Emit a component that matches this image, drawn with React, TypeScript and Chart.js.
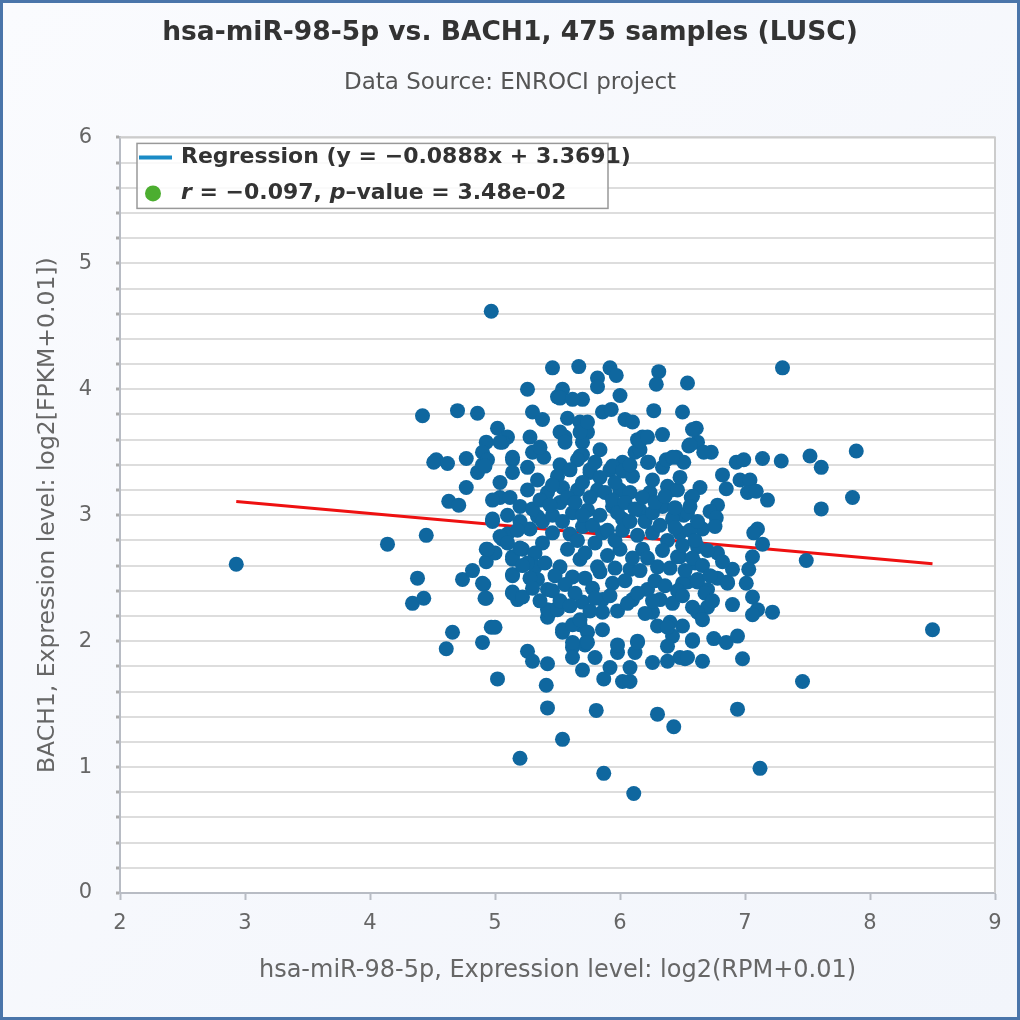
import Chart from "chart.js/auto";
import { useEffect, useRef } from "react";

const chartTitle = "hsa-miR-98-5p vs. BACH1, 475 samples (LUSC)";
const chartSubtitle = "Data Source: ENROCI project";
const xAxisTitle = "hsa-miR-98-5p, Expression level: log2(RPM+0.01)";
const yAxisTitle = "BACH1, Expression level: log2[FPKM+0.01])";

const slope = -0.0888;
const intercept = 3.3691;
const regressionLabel = "Regression (y = \u22120.0888x + 3.3691)";
const statsParts: [string, boolean][] = [
  ["r", true],
  [" = \u22120.097, ", false],
  ["p", true],
  ["\u2013value = 3.48e-02", false],
];

// [miRNA expression, BACH1 expression]
const samplePoints: [number, number][] = [
  [2.93, 2.61], [4.14, 2.77], [4.38, 2.5], [4.34, 2.3], [4.43, 2.34], [4.45, 2.84],
  [4.42, 3.79], [4.53, 3.44], [4.51, 3.42], [4.62, 3.41], [4.63, 3.11], [4.71, 3.08],
  [4.7, 3.83], [4.86, 3.81], [4.97, 4.62], [5.26, 4.0], [5.46, 4.17], [5.67, 4.18],
  [5.92, 4.17], [5.97, 4.11], [5.82, 4.09], [5.82, 4.02], [5.54, 4.0], [5.5, 3.94],
  [5.7, 3.92], [6.0, 3.95], [5.3, 3.82], [5.38, 3.76], [5.58, 3.77], [5.86, 3.82],
  [5.93, 3.84], [6.04, 3.76], [6.1, 3.74], [5.02, 3.69], [5.1, 3.62], [5.06, 3.58],
  [5.28, 3.62], [5.3, 3.5], [5.39, 3.46], [4.93, 3.58], [4.9, 3.5], [4.9, 3.4],
  [4.86, 3.34], [4.77, 3.45], [4.77, 3.22], [5.14, 3.44], [5.14, 3.34], [5.04, 3.26],
  [5.04, 3.14], [5.56, 3.62], [5.68, 3.74], [5.74, 3.66], [5.7, 3.58], [5.68, 3.47],
  [5.76, 3.34], [5.84, 3.52], [6.02, 3.42], [5.92, 3.36], [6.14, 3.6], [6.12, 3.5],
  [6.31, 4.14], [6.29, 4.04], [6.54, 4.05], [7.3, 4.17], [6.27, 3.83], [6.5, 3.82],
  [6.18, 3.62], [6.34, 3.64], [6.16, 3.52], [6.61, 3.69], [6.55, 3.55], [6.62, 3.58],
  [6.73, 3.5], [6.67, 3.5], [6.23, 3.42], [6.34, 3.38], [6.37, 3.44], [6.45, 3.46],
  [6.51, 3.42], [6.93, 3.42], [6.99, 3.44], [7.14, 3.45], [7.29, 3.43], [7.52, 3.47],
  [7.61, 3.38], [7.89, 3.51], [6.82, 3.32], [6.85, 3.21], [6.96, 3.28], [7.04, 3.28],
  [7.02, 3.18], [7.09, 3.19], [7.18, 3.12], [7.86, 3.14], [7.61, 3.05], [6.64, 3.22],
  [6.57, 3.14], [6.41, 3.2], [6.78, 3.08], [6.72, 3.03], [6.77, 2.98], [6.43, 2.99],
  [6.51, 3.0], [6.66, 2.89], [7.1, 2.89], [7.07, 2.86], [6.76, 2.91], [7.14, 2.77],
  [7.49, 2.64], [7.06, 2.67], [7.03, 2.57], [7.01, 2.46], [7.06, 2.35], [7.1, 2.25],
  [7.06, 2.21], [7.22, 2.23], [8.5, 2.09], [7.46, 1.68], [6.94, 1.46], [6.3, 1.42],
  [6.9, 2.57], [6.86, 2.47], [6.9, 2.29], [6.7, 2.27], [6.62, 2.23], [6.66, 2.17],
  [6.5, 2.12], [6.4, 2.15], [6.3, 2.12], [6.42, 2.04], [6.38, 1.96], [6.58, 2.0],
  [6.75, 2.02], [6.85, 1.99], [6.94, 2.04], [6.98, 1.86], [6.66, 1.84], [6.52, 1.86],
  [6.48, 1.87], [6.38, 1.84], [6.26, 1.83], [6.14, 2.0], [6.12, 1.91], [6.08, 1.79],
  [6.02, 1.68], [6.08, 1.68], [6.48, 2.67], [6.6, 2.62], [6.78, 2.7], [6.82, 2.63],
  [6.54, 2.47], [6.62, 2.47], [6.7, 2.41], [6.78, 2.5], [6.86, 2.46],
  [4.61, 1.94], [4.9, 1.99], [5.02, 1.7], [5.26, 1.92], [5.3, 1.84], [5.42, 1.82],
  [5.41, 1.65], [5.42, 1.47], [5.54, 1.22], [5.2, 1.07], [5.62, 1.95], [5.62, 1.87],
  [5.7, 1.77], [5.72, 1.97], [5.8, 1.87], [5.81, 1.45], [5.87, 0.95], [5.92, 1.79],
  [5.87, 1.7], [5.98, 1.91], [5.98, 1.97], [6.11, 0.79], [6.43, 1.32], [6.54, 1.87],
  [7.12, 0.99],
  [4.66, 2.07], [4.74, 2.49], [4.82, 2.56], [4.91, 2.45], [4.93, 2.34], [4.97, 2.11],
  [4.98, 2.95], [4.93, 2.73], [4.93, 2.63], [5.0, 2.7], [5.06, 2.81], [5.1, 2.85],
  [5.14, 2.52], [5.14, 2.39], [5.18, 2.33], [5.14, 2.67], [5.22, 2.73], [5.42, 2.19],
  [5.48, 2.25], [5.54, 2.07], [5.68, 2.13], [5.74, 2.07], [5.73, 1.99], [5.86, 2.09],
  [5.52, 3.93], [5.62, 3.92], [5.04, 3.58], [5.36, 3.54], [5.52, 3.66], [5.56, 3.58],
  [5.68, 3.66], [5.74, 3.74], [5.7, 3.48], [5.66, 3.44], [6.16, 3.59], [6.22, 3.62],
  [6.22, 3.42], [6.42, 3.46], [6.58, 3.68], [6.56, 3.56], [5.14, 3.46], [4.94, 3.44],
  [4.92, 3.39], [5.26, 3.38], [5.52, 3.4], [5.5, 3.31], [5.76, 3.36], [5.84, 3.3],
  [5.94, 3.39], [6.02, 3.35], [6.1, 3.31], [4.98, 3.12], [5.12, 3.14], [5.26, 3.2],
  [5.34, 3.28], [5.42, 3.18], [5.54, 3.22], [5.66, 3.2], [5.7, 3.26], [5.82, 3.2],
  [6.0, 3.2], [6.08, 3.18], [6.24, 3.18], [6.38, 3.23], [6.46, 3.2], [6.58, 3.15],
  [5.2, 3.07], [5.52, 3.1], [5.74, 3.04], [5.94, 3.07], [6.16, 3.04], [6.34, 3.07],
  [6.54, 3.02],
  [4.98, 2.97], [4.94, 2.73], [5.04, 2.83], [5.14, 2.65], [5.2, 2.74], [5.28, 2.89],
  [5.34, 2.99], [5.14, 2.53], [5.14, 2.38], [5.22, 2.35], [4.9, 2.46], [4.92, 2.34],
  [5.0, 2.11], [5.32, 2.59], [5.34, 2.49], [5.42, 2.41], [5.38, 2.78], [5.46, 2.86],
  [5.52, 2.59], [5.58, 2.73], [5.62, 2.51], [5.68, 2.65], [5.7, 2.91], [5.62, 3.02],
  [5.42, 2.25], [5.5, 2.25], [5.54, 2.09], [5.62, 2.13], [5.68, 2.17], [5.7, 2.31],
  [5.62, 1.99], [5.74, 1.99], [5.82, 2.59], [5.8, 2.78], [5.86, 2.86], [5.86, 2.33],
  [5.86, 2.23], [5.94, 2.46], [6.0, 2.73], [6.02, 2.97], [6.08, 2.57], [6.1, 2.33],
  [6.14, 1.99], [6.18, 2.73], [6.22, 2.41], [6.26, 2.86], [6.26, 2.23], [6.3, 2.59],
  [6.32, 2.33], [6.38, 2.11], [6.42, 2.97], [6.46, 2.67], [6.48, 2.86], [6.5, 2.46],
  [6.58, 2.27], [6.58, 2.01], [6.56, 3.07], [6.62, 2.49], [6.62, 2.75],
  [5.3, 3.05], [5.38, 2.95], [5.46, 3.0], [5.54, 2.95], [5.6, 2.85], [5.66, 2.8],
  [5.72, 2.7], [5.78, 2.92], [5.84, 3.0], [5.9, 2.88], [5.96, 2.8], [6.02, 2.88],
  [6.08, 2.95], [6.14, 2.84], [6.2, 2.95], [6.26, 3.02], [6.32, 2.92], [6.38, 2.8],
  [6.44, 2.9], [6.5, 2.76], [6.56, 2.88], [6.62, 2.95], [5.32, 2.7], [5.4, 2.62],
  [5.48, 2.52], [5.56, 2.45], [5.64, 2.38], [5.72, 2.5], [5.78, 2.42], [5.84, 2.55],
  [5.9, 2.68], [5.96, 2.58], [6.04, 2.48], [6.1, 2.66], [6.16, 2.56], [6.22, 2.66],
  [6.28, 2.48], [6.34, 2.72], [6.4, 2.58], [6.46, 2.4], [6.52, 2.56], [6.58, 2.66],
  [5.36, 3.12], [5.44, 3.08], [5.58, 3.14], [5.64, 3.1], [5.7, 3.0], [5.76, 3.14],
  [5.88, 3.18], [5.94, 3.12], [5.98, 3.02], [6.04, 3.1], [6.12, 3.05], [6.18, 3.14],
  [6.28, 3.1], [6.36, 3.15], [6.44, 3.06], [5.28, 2.5], [5.26, 2.62], [5.36, 2.32],
  [5.46, 2.4], [5.52, 2.32], [5.6, 2.28], [5.76, 2.24], [5.8, 2.34], [5.92, 2.36],
  [5.98, 2.24], [6.06, 2.3], [6.14, 2.38], [6.2, 2.22], [6.26, 2.32], [6.36, 2.44],
  [6.42, 2.3], [6.5, 2.36], [5.46, 3.24], [5.6, 3.36], [5.8, 3.42], [5.96, 3.26],
  [6.08, 3.4], [6.26, 3.28], [6.48, 3.3], [5.2, 2.95], [5.1, 3.0], [5.18, 2.88],
  [5.1, 2.78], [5.22, 2.6], [5.3, 2.42], [6.6, 2.8], [6.7, 2.72], [6.66, 2.6],
  [6.72, 2.52], [6.68, 2.38], [6.74, 2.32],
];

const pointColor = "#0f679f";
const lineColor = "#ee1111";
const legendLineColor = "#1b8bc6";
const legendDotColor = "#4cae30";
const fontFamily = "'DejaVu Sans', sans-serif";

const frame = {
  id: "frame",
  beforeDraw(chart: any) {
    const { ctx, chartArea: a } = chart;
    ctx.save();
    ctx.fillStyle = "#ffffff";
    ctx.fillRect(a.left, a.top, a.right - a.left, a.bottom - a.top);
    ctx.restore();
  },
  afterDraw(chart: any) {
    const { ctx, chartArea: a } = chart;
    ctx.save();
    ctx.strokeStyle = "#cccccc";
    ctx.lineWidth = 2;
    ctx.beginPath();
    ctx.moveTo(a.left, a.top);
    ctx.lineTo(a.right, a.top);
    ctx.lineTo(a.right, a.bottom);
    ctx.stroke();

    // legend box
    const bx = a.left + 17;
    const by = a.top + 6;
    ctx.fillStyle = "rgba(255,255,255,0.85)";
    ctx.fillRect(bx, by, 471, 65);
    ctx.strokeStyle = "#999999";
    ctx.lineWidth = 1.5;
    ctx.strokeRect(bx, by, 471, 65);

    ctx.strokeStyle = legendLineColor;
    ctx.lineWidth = 4;
    ctx.beginPath();
    ctx.moveTo(bx + 2, by + 14);
    ctx.lineTo(bx + 35, by + 14);
    ctx.stroke();

    ctx.fillStyle = legendDotColor;
    ctx.beginPath();
    ctx.arc(bx + 16, by + 50, 8, 0, Math.PI * 2);
    ctx.fill();

    ctx.fillStyle = "#333333";
    ctx.textBaseline = "middle";
    ctx.font = `bold 22px ${fontFamily}`;
    ctx.fillText(regressionLabel, bx + 44, by + 14);
    let tx = bx + 44;
    for (const [part, italic] of statsParts) {
      ctx.font = `${italic ? "italic " : ""}bold 22px ${fontFamily}`;
      ctx.fillText(part, tx, by + 50);
      tx += ctx.measureText(part).width;
    }
    ctx.restore();
  },
};

export default function App() {
  const ref = useRef<HTMLCanvasElement>(null);

  useEffect(() => {
    if (!ref.current) return;
    const xs = samplePoints.map((p) => p[0]);
    const xMin = Math.min(...xs);
    const xMax = Math.max(...xs);
    const chart = new Chart(ref.current, {
      type: "scatter",
      plugins: [frame],
      data: {
        datasets: [
          {
            label: "samples",
            data: samplePoints.map(([x, y]) => ({ x, y })),
            backgroundColor: pointColor,
            borderWidth: 0,
            pointRadius: 7.5,
            order: 1,
          },
          {
            type: "line",
            label: "regression",
            data: [
              { x: xMin, y: slope * xMin + intercept },
              { x: xMax, y: slope * xMax + intercept },
            ],
            borderColor: lineColor,
            borderWidth: 3,
            pointRadius: 0,
            order: 2,
          } as any,
        ],
      },
      options: {
        animation: false,
        responsive: true,
        maintainAspectRatio: false,
        layout: { padding: { top: 0, right: 22, bottom: 0, left: 22 } },
        plugins: {
          legend: { display: false },
          tooltip: { enabled: false },
          title: {
            display: true,
            text: chartTitle,
            color: "#333333",
            font: { family: fontFamily, size: 26.5, weight: "bold" },
            padding: { top: 14, bottom: 0 },
          },
          subtitle: {
            display: true,
            text: chartSubtitle,
            color: "#555555",
            font: { family: fontFamily, size: 23 },
            padding: { top: 20, bottom: 41 },
          },
        },
        scales: {
          x: {
            type: "linear",
            min: 2,
            max: 9,
            afterFit: (s: any) => {
              s.height = 124;
            },
            ticks: {
              stepSize: 1,
              color: "#666666",
              padding: 11,
              font: { family: fontFamily, size: 21 },
            },
            grid: {
              drawOnChartArea: false,
              drawTicks: true,
              tickLength: 7,
              tickColor: "#b8bcc4",
              tickWidth: 2,
            },
            border: { color: "#b8bcc4", width: 2 },
            title: {
              display: true,
              text: xAxisTitle,
              color: "#666666",
              font: { family: fontFamily, size: 24 },
              padding: { top: 0, bottom: 32 },
            },
          },
          y: {
            type: "linear",
            min: 0,
            max: 6,
            afterFit: (s: any) => {
              s.width = 95;
            },
            ticks: {
              stepSize: 0.2,
              autoSkip: false,
              color: "#666666",
              padding: 24,
              font: { family: fontFamily, size: 21 },
              callback: (v: any) =>
                Math.abs(v - Math.round(v)) < 1e-6 ? String(Math.round(v)) : "",
            },
            grid: {
              color: "#dddddd",
              lineWidth: 2,
              drawTicks: true,
              tickLength: 4,
              tickColor: "#aaaaaa",
              tickWidth: 3,
            },
            border: { color: "#b8bcc4", width: 2 },
            title: {
              display: true,
              text: yAxisTitle,
              color: "#666666",
              font: { family: fontFamily, size: 23.5 },
              padding: { top: 9, bottom: 0 },
            },
          },
        },
      },
    });
    return () => {
      chart.destroy();
    };
  }, []);

  return (
    <div
      style={{
        position: "absolute",
        top: 0,
        left: 0,
        width: 1020,
        height: 1020,
        boxSizing: "border-box",
        border: "3px solid #4a75aa",
        background: "linear-gradient(135deg, #fafbfe 0%, #f2f5fb 100%)",
      }}
    >
      <div style={{ position: "relative", width: 1014, height: 1014 }}>
        <canvas ref={ref}></canvas>
      </div>
    </div>
  );
}
